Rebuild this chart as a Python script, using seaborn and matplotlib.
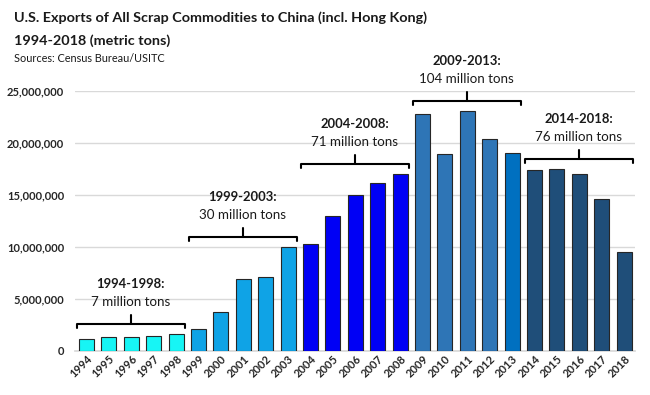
import matplotlib
matplotlib.use("Agg")
import matplotlib.pyplot as plt
import seaborn as sns
import pandas as pd
from matplotlib.ticker import FuncFormatter

years = [str(y) for y in range(1994, 2019)]
exports_mt = [1.13, 1.35, 1.35, 1.41, 1.60,
              2.09, 3.72, 6.87, 7.06, 9.95,
              10.27, 12.96, 15.00, 16.17, 17.00,
              22.75, 18.90, 23.04, 20.37, 19.00,
              17.42, 17.49, 17.04, 14.57, 9.47]
bar_colors = (["#17F5F5"] * 5 + ["#0FA3E6"] * 5 + ["#0000F5"] * 5 +
              ["#2E75B6"] * 4 + ["#0070C0"] + ["#1F4E79"] * 5)
group_titles = ["1994-1998:", "1999-2003:", "2004-2008:", "2009-2013:", "2014-2018:"]
group_totals = ["7 million tons", "30 million tons", "71 million tons",
                "104 million tons", "76 million tons"]
y_ticks = [0, 5e6, 10e6, 15e6, 20e6, 25e6]

df = pd.DataFrame({"year": years, "tons": [v * 1e6 for v in exports_mt]})

sns.set_theme(style="white")
plt.rcParams["font.family"] = ["Lato", "DejaVu Sans"]

fig = plt.figure(figsize=(6.5, 3.95), dpi=100)
ax = fig.add_axes([0.1158, 0.1122, 0.8616, 0.6574])

sns.barplot(data=df, x="year", y="tons", hue="year", palette=bar_colors,
            saturation=1, legend=False, width=0.67, edgecolor="#262626",
            linewidth=0.8, ax=ax, zorder=3)

ax.set_ylim(0, 25e6)
ax.set_xlim(-0.5, len(years) - 0.5)
ax.set_yticks(y_ticks)
ax.yaxis.set_major_formatter(FuncFormatter(lambda v, p: f"{int(v):,}"))
ax.grid(axis="y", color="#D9D9D9", linewidth=1, zorder=0)
ax.grid(axis="x", visible=False)
for s in ["left", "right", "top"]:
    ax.spines[s].set_visible(False)
ax.spines["bottom"].set_color("#D9D9D9")
ax.tick_params(axis="both", length=0)
ax.tick_params(axis="y", pad=8, labelsize=8)
ax.tick_params(axis="x", pad=2, labelsize=8)
for lab in ax.get_yticklabels():
    lab.set_fontweight("bold")
for lab in ax.get_xticklabels():
    lab.set_fontweight("bold")
    lab.set_rotation(45)
    lab.set_ha("right")
    lab.set_va("top")
    lab.set_rotation_mode("anchor")
ax.set_xlabel("")
ax.set_ylabel("")

px = 25e6 / (0.6574 * 395)
for g in range(5):
    i0 = g * 5
    vals = exports_mt[i0:i0 + 5]
    yb = (max(vals) + 1.0) * 1e6
    x0, x1 = i0 - 0.42, i0 + 4.38
    xm = (x0 + x1) / 2
    ax.plot([x0, x0, x1, x1], [yb - 4 * px, yb, yb, yb - 4 * px],
            color="black", lw=1.5, clip_on=False, zorder=4)
    ax.plot([xm, xm], [yb, yb + 9 * px], color="black", lw=1.5,
            clip_on=False, zorder=4)
    ax.text(xm, yb + 22 * px, group_totals[g], ha="center", va="center",
            fontsize=9.6, color="#1a1a1a")
    ax.text(xm, yb + 40 * px, group_titles[g], ha="center", va="center",
            fontsize=9.4, fontweight="bold", color="#1a1a1a")

fig.text(14 / 650, 1 - 18 / 395, "U.S. Exports of All Scrap Commodities to China (incl. Hong Kong)",
         ha="left", va="center", fontsize=10.4, fontweight="bold", color="#1a1a1a")
fig.text(14 / 650, 1 - 41 / 395, "1994-2018 (metric tons)",
         ha="left", va="center", fontsize=10.4, fontweight="bold", color="#1a1a1a")
fig.text(14 / 650, 1 - 59 / 395, "Sources: Census Bureau/USITC",
         ha="left", va="center", fontsize=7.8, color="#1a1a1a")

fig.savefig("out.png", dpi=100)
